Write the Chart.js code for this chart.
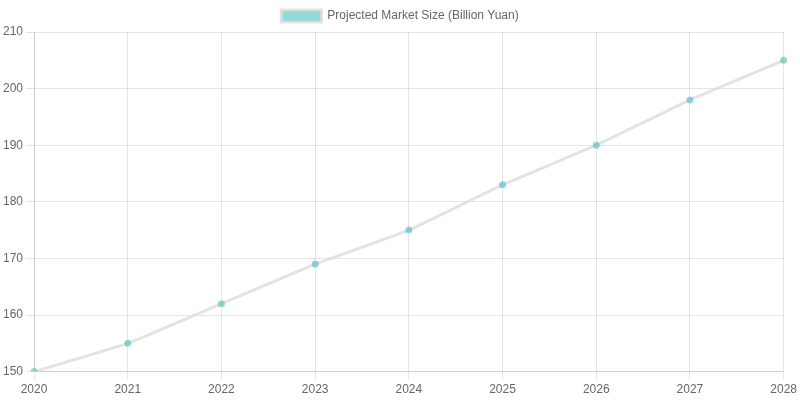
<!DOCTYPE html>
<html>
<head>
<meta charset="utf-8">
<script src="https://cdn.jsdelivr.net/npm/chart.js@4"></script>
<style>
  html, body { margin: 0; padding: 0; background: #fff; }
  #wrap { width: 800px; height: 400px; }
</style>
</head>
<body>
<div id="wrap"><canvas id="marketChart"></canvas></div>
<script>
const years = ["2020", "2021", "2022", "2023", "2024", "2025", "2026", "2027", "2028"];
const marketSize = [150, 155, 162, 169, 175, 183, 190, 198, 205];
const seriesLabel = "Projected Market Size (Billion Yuan)";

new Chart(document.getElementById("marketChart"), {
    type: "line",
    data: {
        labels: years,
        datasets: [{
            label: seriesLabel,
            data: marketSize,
            borderColor: "rgba(220, 220, 220, 0.8)",
            backgroundColor: "rgba(75, 192, 192, 0.6)",
            pointBackgroundColor: "rgba(75, 192, 192, 0.6)",
            pointBorderWidth: 0,
            borderWidth: 3,
            pointRadius: 3.5,
            tension: 0.1,
            fill: false
        }]
    },
    options: {
        responsive: true,
        maintainAspectRatio: false,
        animation: false,
        scales: {
            y: {
                min: 150,
                max: 210,
                ticks: { stepSize: 10 }
            }
        }
    }
});
</script>
</body>
</html>
